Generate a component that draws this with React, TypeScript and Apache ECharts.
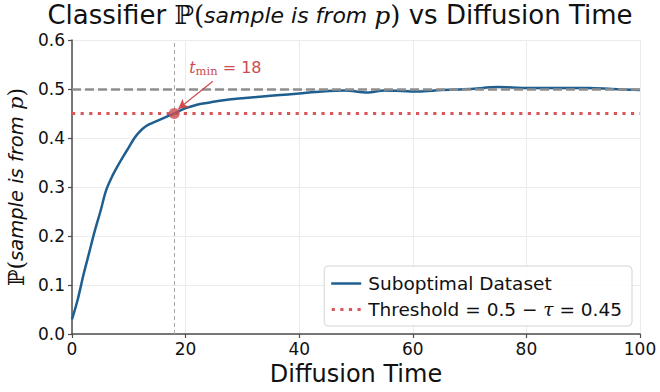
import React, { useEffect, useRef } from "react";
import * as echarts from "echarts";

const times = [0, 1, 2, 3, 4, 5, 6, 7, 8, 9, 10, 11, 12, 13, 14, 15, 16, 17, 18, 19, 20, 22, 24, 26, 28, 30, 32, 36, 40, 44, 48, 52, 55, 58, 61, 65, 70, 75, 80, 86, 91, 95, 100];
const probs = [0.03, 0.07, 0.12, 0.165, 0.21, 0.25, 0.293, 0.32, 0.342, 0.362, 0.381, 0.4, 0.414, 0.424, 0.43, 0.435, 0.44, 0.445, 0.45, 0.456, 0.461, 0.468, 0.472, 0.476, 0.479, 0.481, 0.483, 0.487, 0.491, 0.495, 0.497, 0.493, 0.497, 0.496, 0.495, 0.498, 0.5, 0.504, 0.502, 0.502, 0.502, 0.5, 0.498];
const threshold = 0.45;
const chanceLevel = 0.5;
const tMin = 18;
const seriesNames = ["Suboptimal Dataset", "Threshold"];

const FONT = "DejaVu Sans";
const RED = "#cc4c50";

export default function App() {
  const ref = useRef<HTMLDivElement>(null);
  useEffect(() => {
    const chart = echarts.init(ref.current!, null, { renderer: "svg" });
    const mathRich = {
      n: { fontFamily: FONT, fontSize: 26, fontWeight: "normal", color: "#111" },
      m: { fontFamily: "DejaVu Serif", fontSize: 26, fontWeight: "normal", color: "#111" },
      i: { fontFamily: FONT, fontSize: 22, fontWeight: "normal", fontStyle: "italic", color: "#111" },
      mi: { fontFamily: "DejaVu Serif", fontSize: 25, fontWeight: "normal", fontStyle: "italic", color: "#111" },
    };
    const yRich = {
      m: { fontFamily: "DejaVu Serif", fontSize: 22, color: "#111" },
      i: { fontFamily: FONT, fontSize: 19.5, fontStyle: "italic", color: "#111" },
      mi: { fontFamily: "DejaVu Serif", fontSize: 21, fontStyle: "italic", color: "#111" },
    };
    chart.setOption({
      animation: false,
      grid: { left: 72, right: 20, top: 40, bottom: 58, outerBoundsMode: "none", containLabel: false },
      title: {
        text: "{n|Classifier }{m|ℙ(}{i|sample is from }{mi|p}{m|)}{n| vs Diffusion Time}",
        left: 335,
        textAlign: "center",
        top: -3,
        textStyle: { rich: mathRich, fontSize: 26, fontWeight: "normal" },
      },
      legend: {
        data: [
          { name: seriesNames[0], icon: "path://M0,0H30V2.5H0Z" },
          {
            name: seriesNames[1],
            icon: "path://M0,0h3.2v3.2h-3.2z M8.6,0h3.2v3.2h-3.2z M17.2,0h3.2v3.2h-3.2z M25.8,0h3.2v3.2h-3.2z",
          },
        ],
        orient: "vertical",
        right: 28,
        bottom: 66,
        itemWidth: 30,
        itemHeight: 3.2,
        itemGap: 7,
        padding: [8, 10, 7, 7],
        backgroundColor: "rgba(255,255,255,0.85)",
        borderColor: "#d5d5d5",
        borderWidth: 1,
        borderRadius: 4,
        formatter: (name: string) =>
          name === "Threshold"
            ? "{t|Threshold = 0.5 − }{g|τ}{t| = 0.45}"
            : "{t|" + name + "}",
        textStyle: {
          padding: [0, 0, 0, 2],
          rich: {
            t: { fontFamily: FONT, fontSize: 18.5, color: "#111", lineHeight: 20 },
            g: { fontFamily: "DejaVu Serif", fontSize: 18.5, fontStyle: "italic", color: "#111", lineHeight: 20 },
          },
        },
      },
      xAxis: {
        type: "value",
        min: 0,
        max: 100,
        interval: 20,
        name: "Diffusion Time",
        nameLocation: "middle",
        nameGap: 27,
        nameTextStyle: { fontFamily: FONT, fontSize: 24, color: "#111" },
        axisLine: { show: true, lineStyle: { color: "#4d4d4d", width: 1.5 } },
        axisTick: { show: true, length: 4, lineStyle: { color: "#4d4d4d", width: 1.2 } },
        axisLabel: { fontFamily: FONT, fontSize: 17, color: "#111", margin: 6 },
        splitLine: { show: true, lineStyle: { color: "#ebebeb", width: 1 } },
      },
      yAxis: {
        type: "value",
        min: 0,
        max: 0.6,
        interval: 0.1,
        name: "{m|ℙ(}{i|sample is from }{mi|p}{m|)}",
        nameLocation: "middle",
        nameGap: 42,
        nameRotate: 90,
        nameTextStyle: { rich: yRich },
        axisLine: { show: true, lineStyle: { color: "#4d4d4d", width: 1.5 } },
        axisTick: { show: true, length: 4, lineStyle: { color: "#4d4d4d", width: 1.2 } },
        axisLabel: {
          fontFamily: FONT,
          fontSize: 17,
          color: "#111",
          margin: 7,
          formatter: (v: number) => v.toFixed(1),
        },
        splitLine: { show: true, lineStyle: { color: "#ebebeb", width: 1 } },
      },
      series: [
        {
          name: seriesNames[0],
          type: "line",
          data: times.map((t, i) => [t, probs[i]]),
          smooth: 0.3,
          showSymbol: false,
          symbol: "none",
          z: 4,
          lineStyle: { color: "#1f5f8f", width: 2.5 },
          itemStyle: { color: "#1f5f8f" },
          markLine: {
            silent: true,
            symbol: "none",
            label: { show: false },
            data: [
              { yAxis: chanceLevel, lineStyle: { color: "#8e8e8e", width: 2.5, type: [9, 4] } },
              { xAxis: tMin, lineStyle: { color: "#a8a8a8", width: 1, type: [4, 3] } },
            ],
          },
        },
        {
          name: seriesNames[1],
          type: "line",
          data: [
            [0, threshold],
            [100, threshold],
          ],
          showSymbol: false,
          symbol: "none",
          z: 3,
          lineStyle: { color: "#d9575b", width: 3.2, type: [3.2, 5.4] },
          itemStyle: { color: "#d9575b" },
        },
        {
          name: "tmin",
          type: "scatter",
          data: [[tMin, threshold]],
          symbolSize: 11,
          z: 6,
          itemStyle: { color: RED },
          markLine: {
            silent: true,
            symbol: ["none", "arrow"],
            symbolSize: [8, 10],
            label: { show: false },
            lineStyle: { color: RED, width: 1.2, type: "solid" },
            data: [
              [
                { coord: [24.8, 0.516] },
                { coord: [18.7, 0.459] },
              ],
            ],
          },
          markPoint: {
            silent: true,
            symbol: "circle",
            symbolSize: 0,
            data: [{ coord: [27.0, 0.543] }],
            label: {
              show: true,
              position: "inside",
              formatter: "{t|t}{s|min}{n| = 18}",
              rich: {
                t: { fontFamily: "DejaVu Serif", fontStyle: "italic", fontSize: 16, color: RED },
                s: { fontFamily: "DejaVu Serif", fontSize: 11.5, color: RED, verticalAlign: "bottom", padding: [7, 0, 0, 0] },
                n: { fontFamily: FONT, fontSize: 16, color: RED },
              },
            },
          },
        },
      ],
    });
    return () => chart.dispose();
  }, []);
  return <div ref={ref} style={{ width: 660, height: 392, position: "absolute", left: 0, top: 0 }} />;
}
